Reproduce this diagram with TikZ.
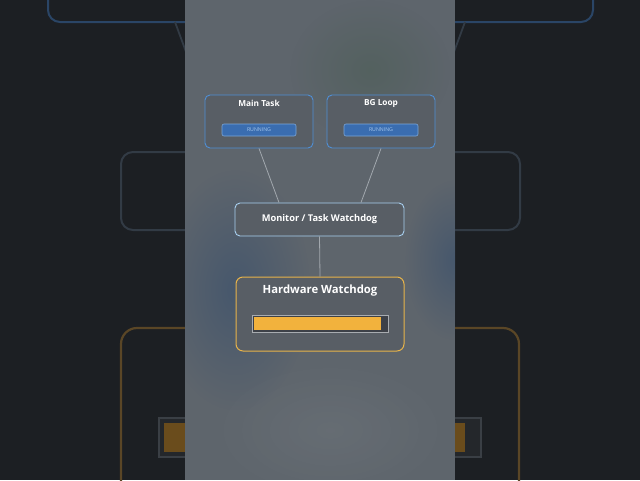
\documentclass[tikz,border=0pt]{standalone}
\usepackage{fontspec}
\setmainfont{Open Sans}
\usetikzlibrary{calc,fadings}
\definecolor{bgdark}{HTML}{1C1F23}
\definecolor{panel}{HTML}{5E656C}
\definecolor{boxfill}{HTML}{585E65}
\definecolor{taskblue}{HTML}{4F8FD6}
\definecolor{runfill}{HTML}{3A6DB0}
\definecolor{runedge}{HTML}{7AA6D8}
\definecolor{runtext}{HTML}{A4C6EC}
\definecolor{monedge}{HTML}{A8D0F0}
\definecolor{hwedge}{HTML}{E8B44A}
\definecolor{barorange}{HTML}{F2B23D}
\definecolor{baredge}{HTML}{A8ACB0}
\definecolor{bardark}{HTML}{3D4148}
\definecolor{wire}{HTML}{A2A8AE}
\definecolor{dimblue}{HTML}{2A4566}
\definecolor{dimgrey}{HTML}{323B45}
\definecolor{dimorange}{HTML}{5A4626}
\definecolor{dimbar}{HTML}{6A4C1C}
\definecolor{dimbaredge}{HTML}{3A3F45}
\definecolor{dimbarfill}{HTML}{24272B}
\definecolor{patchblue}{HTML}{44566C}
\definecolor{patchgreen}{HTML}{51605C}
\tikzfading[name=softspot, inner color=transparent!0, outer color=transparent!100]
\tikzset{
  taskbox/.style={draw=taskblue, fill=boxfill, line width=0.9pt, rounded corners=5pt, minimum width=108pt, minimum height=53pt, inner sep=0pt},
  runbar/.style={draw=runedge, fill=runfill, line width=0.6pt, rounded corners=2pt, minimum width=74pt, minimum height=12pt, inner sep=0pt, text=runtext, font=\fontsize{5.2}{6}\selectfont},
  title/.style={text=white, font=\bfseries\fontsize{8.3}{10}\selectfont, inner sep=0pt},
  monbox/.style={draw=monedge, fill=boxfill, line width=0.9pt, rounded corners=5pt, minimum width=169pt, minimum height=33pt, inner sep=0pt, text=white, font=\bfseries\fontsize{9.3}{11}\selectfont},
  hwbox/.style={draw=hwedge, fill=boxfill, line width=1pt, rounded corners=7pt, minimum width=168pt, minimum height=74pt, inner sep=0pt},
  wireline/.style={draw=wire, line width=0.8pt},
}
\begin{document}
\begin{tikzpicture}[x=1pt,y=-1pt]
\useasboundingbox (0,0) rectangle (640,480);
% dark background with enlarged, dimmed copy
\fill[bgdark] (0,0) rectangle (640,480);
\draw[dimblue, line width=2pt, rounded corners=12pt] (48,-104) rectangle (303,22);
\draw[dimblue, line width=2pt, rounded corners=12pt] (337,-104) rectangle (593,22);
\draw[dimgrey, line width=1.8pt] (175,22) -- (223,152);
\draw[dimgrey, line width=1.8pt] (465,22) -- (417,152);
\draw[dimgrey, line width=2pt, rounded corners=12pt] (121,152) rectangle (520,230);
\draw[dimorange, line width=2.2pt, rounded corners=16pt] (121,328) rectangle (519,503);
\draw[draw=dimbaredge, fill=dimbarfill, line width=2pt] (159,418) rectangle (481,457);
\fill[dimbar] (164,423) rectangle (465,452);
% central panel
\begin{scope}
\clip (185,0) rectangle (455,480);
\fill[panel] (185,0) rectangle (455,480);
\fill[patchblue, opacity=0.9, path fading=softspot] (235,290) ellipse (75 and 120);
\fill[patchblue, opacity=0.9, path fading=softspot] (455,260) ellipse (50 and 80);
\fill[patchgreen, opacity=0.8, path fading=softspot] (370,70) ellipse (80 and 70);
\fill[white, opacity=0.05, path fading=softspot] (330,430) ellipse (120 and 70);
\end{scope}
% diagram
\node[taskbox] (main) at (259,121.5) {};
\node[title] (maintitle) at (259,103.5) {Main Task};
\node[runbar] (mainrun) at (259,130) {RUNNING};
\node[taskbox] (bg) at (381,121.5) {};
\node[title] (bgtitle) at (381,103.5) {BG Loop};
\node[runbar] (bgrun) at (381,130) {RUNNING};
\node[monbox] (mon) at (319.5,219.5) {Monitor / Task Watchdog};
\node[hwbox] (hw) at (320,314) {};
\node[text=white, font=\bfseries\fontsize{11.3}{13}\selectfont, inner sep=0pt] (hwtitle) at (320,290.5) {Hardware Watchdog};
\node[draw=baredge, fill=bardark, line width=0.8pt, minimum width=136pt, minimum height=17pt, inner sep=0pt] (bar) at (320,323.5) {};
\fill[barorange] ($(bar.south west)+(2,-2)$) rectangle ($(bar.north east)+(-7,2)$);
\draw[wireline] (main.south) -- ($(mon.north)+(-40.5,0)$);
\draw[wireline] (bg.south) -- ($(mon.north)+(41.5,0)$);
\draw[wireline] (mon.south) -- (hw.north);
\end{tikzpicture}
\end{document}
